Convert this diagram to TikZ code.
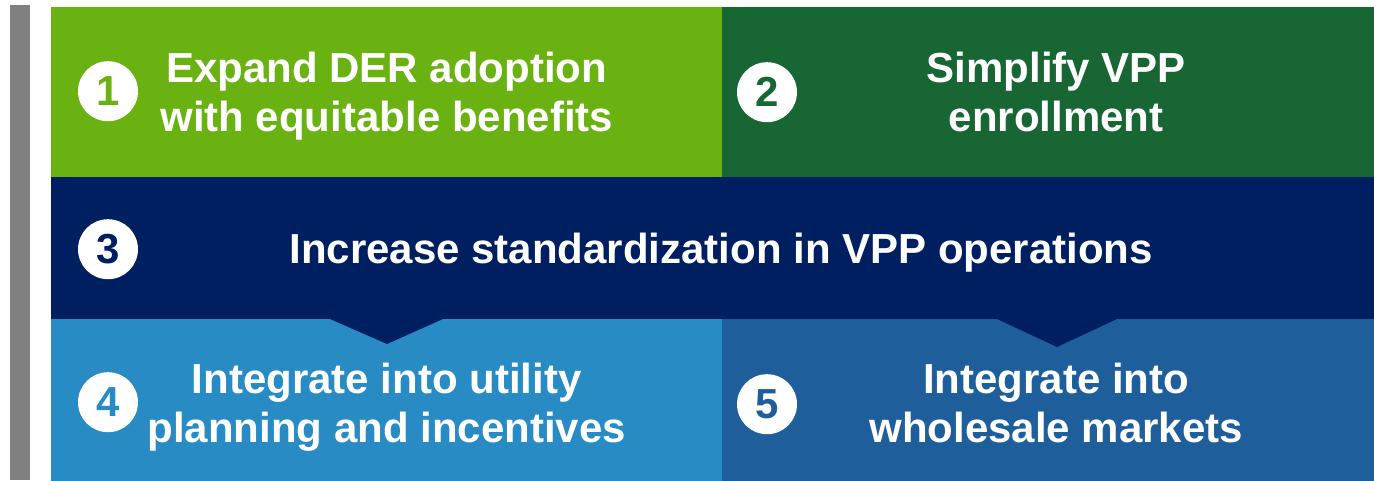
\documentclass[tikz,border=0pt]{standalone}
\usepackage{fontspec}
\setmainfont{Liberation Sans}
\definecolor{leafgreen}{RGB}{106,178,18}
\definecolor{forestgreen}{RGB}{23,102,51}
\definecolor{deepnavy}{RGB}{0,31,96}
\definecolor{skyblue}{RGB}{41,139,196}
\definecolor{steelblue}{RGB}{30,95,155}
\definecolor{sidegray}{RGB}{128,128,128}
\tikzset{
    box/.style={anchor=north west, inner sep=0pt, text=white, align=center,
        text depth=0pt, font=\fontsize{42}{49}\selectfont\bfseries},
    badge/.style={circle, fill=white, minimum size=60pt, inner sep=0pt,
        font=\fontsize{42}{42}\selectfont\bfseries}
}
\begin{document}
\begin{tikzpicture}[x=1pt,y=-1pt]
    \useasboundingbox (0,0) rectangle (1374,480);
    \clip (0,0) rectangle (1374,480);
    \fill[sidegray] (10,5) rectangle (30,480);
    % the five fields
    \node[box, fill=leafgreen, minimum width=671pt, minimum height=170pt] (b1) at (51,7)
        {Expand DER adoption\\with equitable benefits};
    \node[box, fill=forestgreen, minimum width=668pt, minimum height=170pt] (b2) at (722,7)
        {Simplify VPP\\enrollment};
    \node[box, fill=deepnavy, minimum width=1340pt, minimum height=142pt] (b3) at (51,177)
        {Increase standardization in VPP operations};
    \node[box, fill=skyblue, minimum width=671pt, minimum height=168pt] (b4) at (51,319)
        {Integrate into utility\\planning and incentives};
    \node[box, fill=steelblue, minimum width=668pt, minimum height=168pt] (b5) at (722,319)
        {Integrate into\\wholesale markets};
    % notches below the middle band
    \fill[deepnavy] (330,319) -- (387,344) -- (443,319) -- cycle;
    \fill[deepnavy] (997,319) -- (1057,347) -- (1117,319) -- cycle;
    % numbers
    \node[badge, text=leafgreen] (n1) at ([xshift=57pt, yshift=1pt]b1.west) {1};
    \node[badge, text=forestgreen] (n2) at ([xshift=45pt, yshift=0pt]b2.west) {2};
    \node[badge, text=deepnavy] (n3) at ([xshift=57pt, yshift=-1pt]b3.west) {3};
    \node[badge, text=skyblue] (n4) at ([xshift=57pt, yshift=1pt]b4.west) {4};
    \node[badge, text=steelblue] (n5) at ([xshift=45pt, yshift=-1pt]b5.west) {5};
\end{tikzpicture}
\end{document}
